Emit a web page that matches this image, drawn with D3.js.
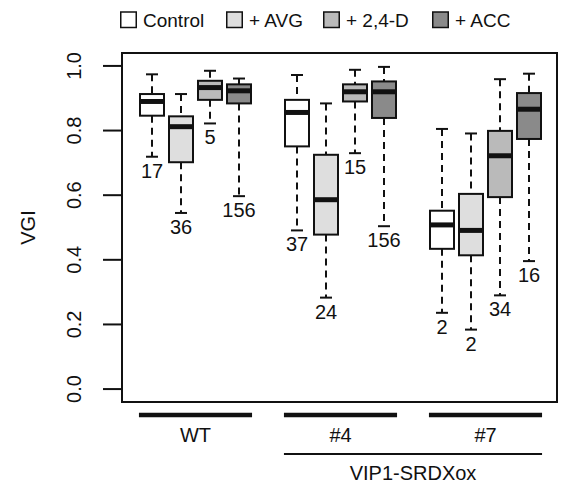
<!DOCTYPE html>
<html>
<head>
<meta charset="utf-8">
<script src="https://cdn.jsdelivr.net/npm/d3@7"></script>
<style>
  html, body { margin: 0; padding: 0; background: #fff; }
  svg { display: block; font-family: "Liberation Sans", Arial, sans-serif; }
</style>
</head>
<body>
<svg id="chart" width="564" height="485"></svg>
<script>
// Lines (genotypes) and treatments
const groups = ["WT", "#4", "#7"];
const treatments = ["Control", "+ AVG", "+ 2,4-D", "+ ACC"];
const treatmentFill = ["#ffffff", "#dedede", "#bababa", "#8a8a8a"];

// Box statistics, group by group, treatments in order
const whiskerHigh = [0.974, 0.913, 0.985, 0.961,  0.972, 0.884, 0.988, 0.997,  0.805, 0.791, 0.959, 0.976];
const upperQ      = [0.913, 0.844, 0.954, 0.943,  0.895, 0.725, 0.943, 0.952,  0.552, 0.604, 0.799, 0.916];
const medians     = [0.890, 0.812, 0.933, 0.923,  0.856, 0.586, 0.920, 0.920,  0.508, 0.491, 0.722, 0.866];
const lowerQ      = [0.846, 0.702, 0.895, 0.884,  0.751, 0.478, 0.890, 0.839,  0.434, 0.414, 0.594, 0.774];
const whiskerLow  = [0.719, 0.545, 0.822, 0.597,  0.491, 0.283, 0.730, 0.504,  0.236, 0.184, 0.290, 0.396];
const sampleN     = ["17", "36", "5", "156",  "37", "24", "15", "156",  "2", "2", "34", "16"];

const yTicks = [0, 0.2, 0.4, 0.6, 0.8, 1.0];
const yLabel = "VGI";
const bracketLabel = "VIP1-SRDXox";

const svg = d3.select("#chart");
const ink = "#111";
const plotLeft = 122, plotRight = 557, plotTop = 53, plotBottom = 402;

// Box positions: 4 per group with one empty slot between groups
const pos = [];
groups.forEach((g, gi) => treatments.forEach((t, ti) => pos.push(gi * 5 + ti + 1)));

const x = d3.scaleLinear().domain([0, 15]).range([123, 558]);
const y = d3.scaleLinear().domain([-0.04, 1.04]).range([plotBottom, plotTop]);

const boxW = 24, stapleW = 12;

// Boxes
const boxes = svg.append("g").selectAll("g")
  .data(pos.map((p, i) => ({
    p, i, fill: treatmentFill[i % 4],
    hi: whiskerHigh[i], q3: upperQ[i], med: medians[i], q1: lowerQ[i], lo: whiskerLow[i], n: sampleN[i]
  })))
  .join("g");

// dashed whiskers
boxes.append("line")
  .attr("x1", d => x(d.p)).attr("x2", d => x(d.p))
  .attr("y1", d => y(d.hi)).attr("y2", d => y(d.q3))
  .attr("stroke", ink).attr("stroke-width", 2).attr("stroke-dasharray", "7,5");
boxes.append("line")
  .attr("x1", d => x(d.p)).attr("x2", d => x(d.p))
  .attr("y1", d => y(d.q1)).attr("y2", d => y(d.lo))
  .attr("stroke", ink).attr("stroke-width", 2).attr("stroke-dasharray", "7,5");
// staples
boxes.append("line")
  .attr("x1", d => x(d.p) - stapleW / 2).attr("x2", d => x(d.p) + stapleW / 2)
  .attr("y1", d => y(d.hi)).attr("y2", d => y(d.hi))
  .attr("stroke", ink).attr("stroke-width", 2);
boxes.append("line")
  .attr("x1", d => x(d.p) - stapleW / 2).attr("x2", d => x(d.p) + stapleW / 2)
  .attr("y1", d => y(d.lo)).attr("y2", d => y(d.lo))
  .attr("stroke", ink).attr("stroke-width", 2);
// box
boxes.append("rect")
  .attr("x", d => x(d.p) - boxW / 2).attr("width", boxW)
  .attr("y", d => y(d.q3)).attr("height", d => y(d.q1) - y(d.q3))
  .attr("fill", d => d.fill).attr("stroke", ink).attr("stroke-width", 2);
// median
boxes.append("line")
  .attr("x1", d => x(d.p) - boxW / 2).attr("x2", d => x(d.p) + boxW / 2)
  .attr("y1", d => y(d.med)).attr("y2", d => y(d.med))
  .attr("stroke", ink).attr("stroke-width", 5);
// sample sizes under the lower whisker
boxes.append("text")
  .attr("x", d => x(d.p)).attr("y", d => y(d.lo) + 21)
  .attr("text-anchor", "middle").attr("font-size", 20).attr("fill", ink)
  .text(d => d.n);

// Frame
svg.append("rect")
  .attr("x", plotLeft).attr("y", plotTop)
  .attr("width", plotRight - plotLeft).attr("height", plotBottom - plotTop)
  .attr("fill", "none").attr("stroke", ink).attr("stroke-width", 2);

// Y axis
const yAxis = svg.append("g");
yAxis.selectAll("line").data(yTicks).join("line")
  .attr("x1", 103).attr("x2", plotLeft)
  .attr("y1", d => y(d)).attr("y2", d => y(d))
  .attr("stroke", ink).attr("stroke-width", 2);
yAxis.selectAll("text").data(yTicks).join("text")
  .attr("transform", d => `translate(81,${y(d)}) rotate(-90)`)
  .attr("text-anchor", "middle").attr("font-size", 20).attr("fill", ink)
  .text(d => d3.format(".1f")(d));
svg.append("text")
  .attr("transform", `translate(35,${(plotTop + plotBottom) / 2}) rotate(-90)`)
  .attr("text-anchor", "middle").attr("font-size", 20).attr("fill", ink)
  .text(yLabel);

// Group bars and labels
const gb = svg.append("g");
groups.forEach((g, gi) => {
  const a = gi * 5 + 0.55, b = gi * 5 + 4.45;
  gb.append("line").attr("x1", x(a)).attr("x2", x(b)).attr("y1", 415).attr("y2", 415)
    .attr("stroke", ink).attr("stroke-width", 4.5);
  gb.append("text").attr("x", x((a + b) / 2)).attr("y", 442)
    .attr("text-anchor", "middle").attr("font-size", 20).attr("fill", ink).text(g);
});
gb.append("line").attr("x1", x(5.55)).attr("x2", x(14.45)).attr("y1", 454).attr("y2", 454)
  .attr("stroke", ink).attr("stroke-width", 1.8);
gb.append("text").attr("x", x(10)).attr("y", 480)
  .attr("text-anchor", "middle").attr("font-size", 20).attr("fill", ink).text(bracketLabel);

// Legend
const legendX = [120, 226, 323, 432];
const lg = svg.append("g").selectAll("g").data(treatments).join("g")
  .attr("transform", (d, i) => `translate(${legendX[i]},0)`);
lg.append("rect").attr("x", 0.75).attr("y", 12).attr("width", 15.5).attr("height", 15.5)
  .attr("fill", (d, i) => treatmentFill[i]).attr("stroke", ink).attr("stroke-width", 1.5);
lg.append("text").attr("x", 23).attr("y", 27).attr("font-size", 19).attr("fill", ink)
  .text(d => d);
</script>
</body>
</html>
